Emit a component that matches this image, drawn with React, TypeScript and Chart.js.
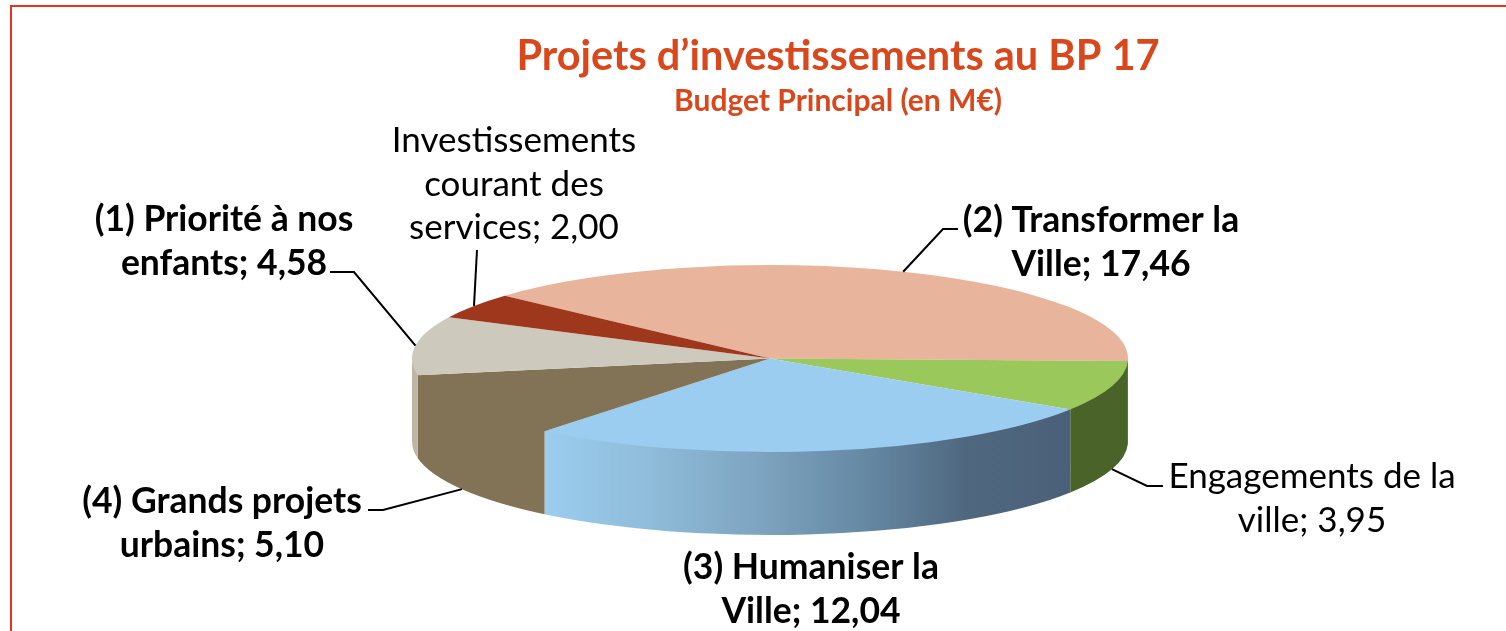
import React, { useEffect, useRef } from "react";
import { Chart, registerables } from "chart.js";

Chart.register(...registerables);

const titleText = "Projets d’investissements au BP 17";
const subtitleText = "Budget Principal (en M€)";
const categories = [
  "(2) Transformer la Ville",
  "Engagements de la ville",
  "(3) Humaniser la Ville",
  "(4) Grands projets urbains",
  "(1) Priorité à nos enfants",
  "Investissements courant des services",
];
const values = [17.46, 3.95, 12.04, 5.1, 4.58, 2.0];
const valueText = ["17,46", "3,95", "12,04", "5,10", "4,58", "2,00"];
const labelLines = [
  ["(2) Transformer la", "Ville; "],
  ["Engagements de la", "ville; "],
  ["(3) Humaniser la", "Ville; "],
  ["(4) Grands projets", "urbains; "],
  ["(1) Priorité à nos", "enfants; "],
  ["Investissements", "courant des", "services; "],
];
const topColors = ["#e8b49c", "#9bc85a", "#9bcdf0", "#827356", "#cdc9bc", "#9f371c"];
const wallColors = ["#c49680", "#4a6329", "#4a6078", "#827356", "#bdb6a6", "#7f2c16"];
const blueWallStops = ["#9bcdef", "#8fbcd9", "#7ea5c1", "#678aa5", "#4f6880", "#4a6078"];

const ROTATION = -47.8;
const CX = 770;
const CY = 358.5;
const RX = 358;
const RY = 93.5;
const DEPTH = 83;

const FONT = "Lato, Carlito, sans-serif";
const BOLD_SIZE = 35.5;
const REGULAR_SIZE = 35;
const LINE_GAP = 43.5;
const labelLayout = [
  { cx: 1101, y: 232, bold: true, edge: "top", elbow: [943, 229], tail: [958, 229] },
  { cx: 1312, y: 488, bold: false, edge: "bottom", elbow: [1147, 486], tail: [1163, 486] },
  { cx: 811, y: 579, bold: true, edge: "", elbow: null, tail: null },
  { cx: 222, y: 513, bold: true, edge: "bottom", elbow: [383, 510], tail: [368, 510] },
  { cx: 224, y: 231, bold: true, edge: "top", elbow: [354, 272], tail: [330, 272] },
  { cx: 514, y: 152, bold: false, edge: "top", elbow: [477, 250], tail: [477, 250] },
];

const pie3d = {
  id: "pie3d",
  beforeDraw(chart: any) {
    const { ctx } = chart;
    ctx.save();
    ctx.fillStyle = "#ffffff";
    ctx.fillRect(0, 0, chart.width, chart.height);
    ctx.strokeStyle = "#e8341c";
    ctx.lineWidth = 2;
    ctx.beginPath();
    ctx.moveTo(11, chart.height);
    ctx.lineTo(11, 6);
    ctx.lineTo(chart.width, 6);
    ctx.stroke();
    ctx.restore();
  },
  beforeDatasetsDraw(chart: any) {
    const { ctx } = chart;
    const arcs = chart.getDatasetMeta(0).data;
    const x0 = arcs[0].x;
    const y0 = arcs[0].y;
    const r = arcs[0].outerRadius;
    arcs.forEach((arc: any, i: number) => {
      [0, 2 * Math.PI, -2 * Math.PI].forEach((k) => {
        const lo = Math.max(arc.startAngle + k, 0);
        const hi = Math.min(arc.endAngle + k, Math.PI);
        if (hi <= lo) return;
        ctx.save();
        ctx.beginPath();
        ctx.ellipse(x0, y0 - 2, r, RY, 0, lo, hi);
        ctx.ellipse(x0, y0 + DEPTH, r, RY, 0, hi, lo, true);
        ctx.closePath();
        if (i === 2) {
          const xa = x0 + r * Math.cos(hi);
          const xb = x0 + r * Math.cos(lo);
          const g = ctx.createLinearGradient(xa, 0, xb, 0);
          blueWallStops.forEach((c, j) => g.addColorStop(j / (blueWallStops.length - 1), c));
          ctx.fillStyle = g;
        } else {
          ctx.fillStyle = wallColors[i];
        }
        ctx.fill();
        ctx.restore();
      });
    });
    ctx.save();
    ctx.translate(x0, y0);
    ctx.scale(1, RY / r);
    ctx.translate(-x0, -y0);
  },
  afterDatasetsDraw(chart: any) {
    chart.ctx.restore();
  },
  afterDraw(chart: any) {
    const { ctx } = chart;
    const arcs = chart.getDatasetMeta(0).data;
    ctx.save();
    ctx.textBaseline = "alphabetic";
    ctx.textAlign = "center";
    ctx.fillStyle = "#d9481c";
    ctx.font = `bold 41.5px ${FONT}`;
    ctx.fillText(titleText, 838, 70);
    ctx.font = `bold 30px ${FONT}`;
    ctx.fillText(subtitleText, 838, 111);

    labelLayout.forEach((l, i) => {
      ctx.fillStyle = "#000000";
      ctx.font = l.bold ? `bold ${BOLD_SIZE}px ${FONT}` : `${REGULAR_SIZE}px ${FONT}`;
      labelLines[i].forEach((line, j) => {
        const last = j === labelLines[i].length - 1;
        ctx.fillText(last ? line + valueText[i] : line, l.cx, l.y + j * LINE_GAP);
      });
      if (!l.elbow || !l.tail) return;
      const mid = (arcs[i].startAngle + arcs[i].endAngle) / 2;
      const ax = arcs[i].x + arcs[i].outerRadius * Math.cos(mid);
      const ay = arcs[i].y + RY * Math.sin(mid) + (l.edge === "bottom" ? DEPTH : 0);
      ctx.strokeStyle = "#000000";
      ctx.lineWidth = 2;
      ctx.beginPath();
      ctx.moveTo(ax, ay);
      ctx.lineTo(l.elbow[0], l.elbow[1]);
      ctx.lineTo(l.tail[0], l.tail[1]);
      ctx.stroke();
    });
    ctx.restore();
  },
};

export default function App() {
  const ref = useRef<HTMLCanvasElement>(null);
  useEffect(() => {
    document.body.style.margin = "0";
    document.body.style.overflow = "hidden";
    const chart = new Chart(ref.current!, {
      type: "pie",
      data: {
        labels: categories,
        datasets: [
          {
            data: values,
            backgroundColor: topColors,
            borderWidth: 0,
            radius: RX,
            rotation: ROTATION,
          } as any,
        ],
      },
      options: {
        animation: false,
        responsive: false,
        layout: { padding: { left: 2 * CX - 1506, top: 2 * CY - 631, right: 0, bottom: 0 } },
        plugins: { legend: { display: false }, tooltip: { enabled: false } },
      },
      plugins: [pie3d],
    } as any);
    return () => chart.destroy();
  }, []);
  return (
    <div style={{ position: "absolute", left: 0, top: 0, width: 1506, height: 631 }}>
      <canvas ref={ref} width={1506} height={631} style={{ display: "block" }} />
    </div>
  );
}
